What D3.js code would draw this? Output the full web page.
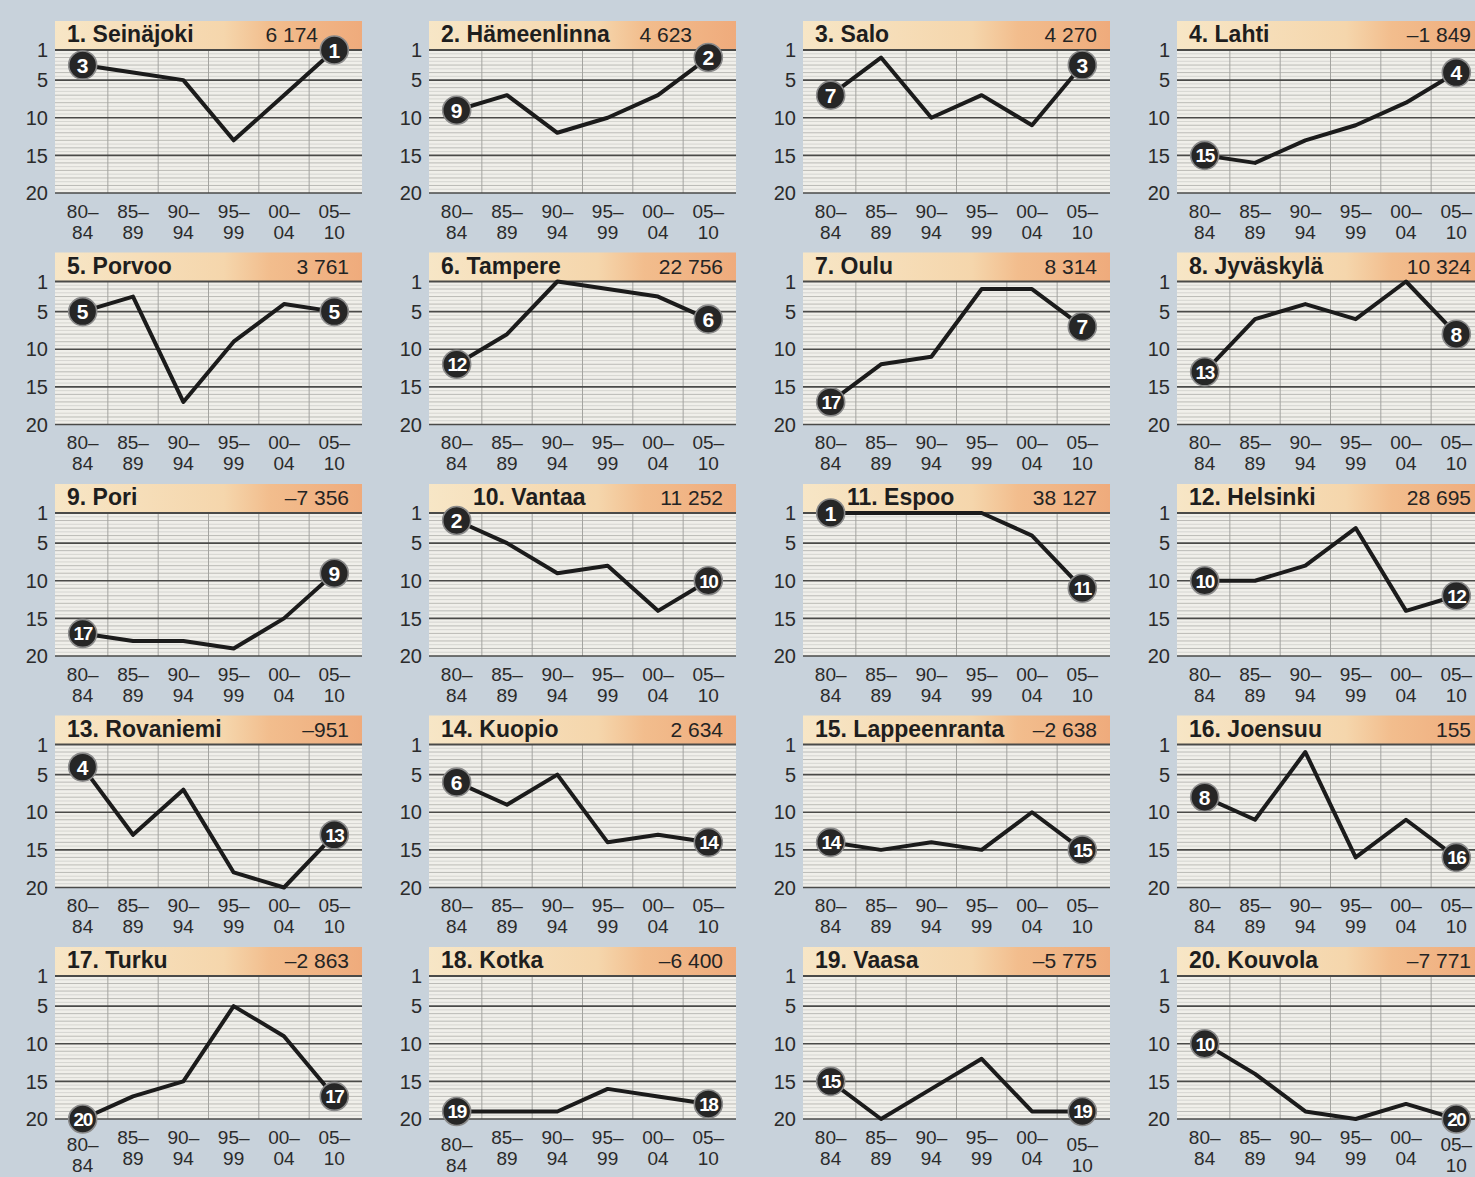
<!DOCTYPE html>
<html>
<head>
<meta charset="utf-8">
<script src="https://cdn.jsdelivr.net/npm/d3@7"></script>
<style>
    html, body { margin: 0; padding: 0; background: #c8d2db; overflow: hidden; }
    svg { display: block; font-family: "Liberation Sans", Arial, sans-serif; }
</style>
</head>
<body>
<svg id="chart" width="1475" height="1177"></svg>
<script>
// ----- data -----
const periods = [["80–", "84"], ["85–", "89"], ["90–", "94"], ["95–", "99"], ["00–", "04"], ["05–", "10"]];
const rankTicks = [1, 5, 10, 15, 20];

const cities = [
    "1. Seinäjoki", "2. Hämeenlinna", "3. Salo", "4. Lahti",
    "5. Porvoo", "6. Tampere", "7. Oulu", "8. Jyväskylä",
    "9. Pori", "10. Vantaa", "11. Espoo", "12. Helsinki",
    "13. Rovaniemi", "14. Kuopio", "15. Lappeenranta", "16. Joensuu",
    "17. Turku", "18. Kotka", "19. Vaasa", "20. Kouvola"
];

const changes = [
    "6 174", "4 623", "4 270", "–1 849",
    "3 761", "22 756", "8 314", "10 324",
    "–7 356", "11 252", "38 127", "28 695",
    "–951", "2 634", "–2 638", "155",
    "–2 863", "–6 400", "–5 775", "–7 771"
];

// rank in each period, 80-84 ... 05-10
const ranks = [
    [3, 4, 5, 13, 7, 1],
    [9, 7, 12, 10, 7, 2],
    [7, 2, 10, 7, 11, 3],
    [15, 16, 13, 11, 8, 4],
    [5, 3, 17, 9, 4, 5],
    [12, 8, 1, 2, 3, 6],
    [17, 12, 11, 2, 2, 7],
    [13, 6, 4, 6, 1, 8],
    [17, 18, 18, 19, 15, 9],
    [2, 5, 9, 8, 14, 10],
    [1, 1, 1, 1, 4, 11],
    [10, 10, 8, 3, 14, 12],
    [4, 13, 7, 18, 20, 13],
    [6, 9, 5, 14, 13, 14],
    [14, 15, 14, 15, 10, 15],
    [8, 11, 2, 16, 11, 16],
    [20, 17, 15, 5, 9, 17],
    [19, 19, 19, 16, 17, 18],
    [15, 20, 16, 12, 19, 19],
    [10, 14, 19, 20, 18, 20]
];

// ----- layout -----
const plotW = 307, plotH = 143, headH = 29;
const colX = c => 55 + c * 374;
const rowY = r => 50 + r * 231.5;

const svg = d3.select('#chart');

const defs = svg.append('defs');
const grad = defs.append('linearGradient').attr('id', 'head-grad');
grad.append('stop').attr('offset', '0%').attr('stop-color', '#f7e6c6');
grad.append('stop').attr('offset', '55%').attr('stop-color', '#f5d6ac');
grad.append('stop').attr('offset', '70%').attr('stop-color', '#f2bd8d');
grad.append('stop').attr('offset', '100%').attr('stop-color', '#efab7c');

const x = d3.scalePoint().domain(d3.range(periods.length)).range([0, plotW]).padding(0.55);
const y = d3.scaleLinear().domain([1, 20]).range([0, plotH]);
const step = x.step();

const line = d3.line()
    .x((d, i) => x(i))
    .y(d => y(d));

const minorTicks = d3.range(1.5, 20, 0.5).filter(v => !rankTicks.includes(v));

cities.forEach((name, k) => {
    const col = k % 4, row = Math.floor(k / 4);
    const vals = ranks[k];
    const g = svg.append('g').attr('transform', `translate(${colX(col)},${rowY(row)})`);

    // plot background
    g.append('rect')
        .attr('x', 0).attr('y', 0)
        .attr('width', plotW).attr('height', plotH)
        .attr('fill', '#f0efea');

    // minor horizontal grid (whole ranks darker, half steps faint)
    g.selectAll('line.minor').data(minorTicks).enter().append('line')
        .attr('class', 'minor')
        .attr('x1', 0).attr('x2', plotW)
        .attr('y1', d => y(d)).attr('y2', d => y(d))
        .attr('stroke', d => Number.isInteger(d) ? '#b4b4b0' : '#d2d2ce')
        .attr('stroke-width', 0.9);

    // vertical grid at period boundaries
    g.selectAll('line.vgrid').data(d3.range(1, periods.length)).enter().append('line')
        .attr('class', 'vgrid')
        .attr('x1', d => x(d) - step / 2).attr('x2', d => x(d) - step / 2)
        .attr('y1', 0).attr('y2', plotH)
        .attr('stroke', '#a4a4a0').attr('stroke-width', 1);

    // header
    g.append('rect')
        .attr('x', 0).attr('y', -headH)
        .attr('width', plotW).attr('height', headH)
        .attr('fill', 'url(#head-grad)');

    // major grid
    g.selectAll('line.major').data(rankTicks).enter().append('line')
        .attr('class', 'major')
        .attr('x1', 0).attr('x2', plotW)
        .attr('y1', d => y(d)).attr('y2', d => y(d))
        .attr('stroke', '#4a4a48')
        .attr('stroke-width', d => d === 1 ? 2.2 : 1.7);

    // y labels
    g.selectAll('text.ylab').data(rankTicks).enter().append('text')
        .attr('class', 'ylab')
        .attr('x', -7).attr('y', d => y(d))
        .attr('dy', '0.36em')
        .attr('text-anchor', 'end')
        .attr('font-size', 20)
        .attr('fill', '#2b2b2b')
        .text(d => d);

    // x labels (two lines); pushed down under a bottom endpoint circle
    const xl = g.selectAll('g.xlab').data(periods).enter().append('g')
        .attr('class', 'xlab')
        .attr('transform', (d, i) => {
            const end = i === 0 || i === periods.length - 1;
            const shift = end && vals[i] >= 19 ? 7 : 0;
            return `translate(${x(i)},${plotH + 18 + shift})`;
        });
    xl.append('text')
        .attr('text-anchor', 'middle').attr('dy', '0.36em')
        .attr('font-size', 19).attr('fill', '#2b2b2b')
        .text(d => d[0]);
    xl.append('text')
        .attr('text-anchor', 'middle').attr('y', 21).attr('dy', '0.36em')
        .attr('font-size', 19).attr('fill', '#2b2b2b')
        .text(d => d[1]);

    // title and change
    g.append('text')
        .attr('x', vals[0] <= 2 ? 44 : 12)
        .attr('y', -8)
        .attr('font-size', 23).attr('font-weight', 700)
        .attr('fill', '#1e1e1e')
        .text(name);
    g.append('text')
        .attr('x', vals[vals.length - 1] <= 2 ? plotW - 44 : plotW - 13)
        .attr('y', -8)
        .attr('text-anchor', 'end')
        .attr('font-size', 21)
        .attr('fill', '#242424')
        .text(changes[k]);

    // rank line
    g.append('path')
        .datum(vals)
        .attr('d', line)
        .attr('fill', 'none')
        .attr('stroke', '#1b1b1b')
        .attr('stroke-width', 4)
        .attr('stroke-linejoin', 'round')
        .attr('stroke-linecap', 'round');

    // endpoint badges
    const ends = [0, vals.length - 1];
    const badge = g.selectAll('g.badge').data(ends).enter().append('g')
        .attr('class', 'badge')
        .attr('transform', i => `translate(${x(i)},${y(vals[i])})`);
    badge.append('circle')
        .attr('r', 14)
        .attr('fill', '#262626')
        .attr('stroke', '#8a8a8a')
        .attr('stroke-width', 1.6);
    badge.append('text')
        .attr('text-anchor', 'middle')
        .attr('dy', '0.36em')
        .attr('font-size', i => vals[i] >= 10 ? 19 : 21)
        .attr('font-weight', 700)
        .attr('letter-spacing', i => vals[i] >= 10 ? -1.5 : 0)
        .attr('fill', '#ffffff')
        .text(i => vals[i]);
});
</script>
</body>
</html>
